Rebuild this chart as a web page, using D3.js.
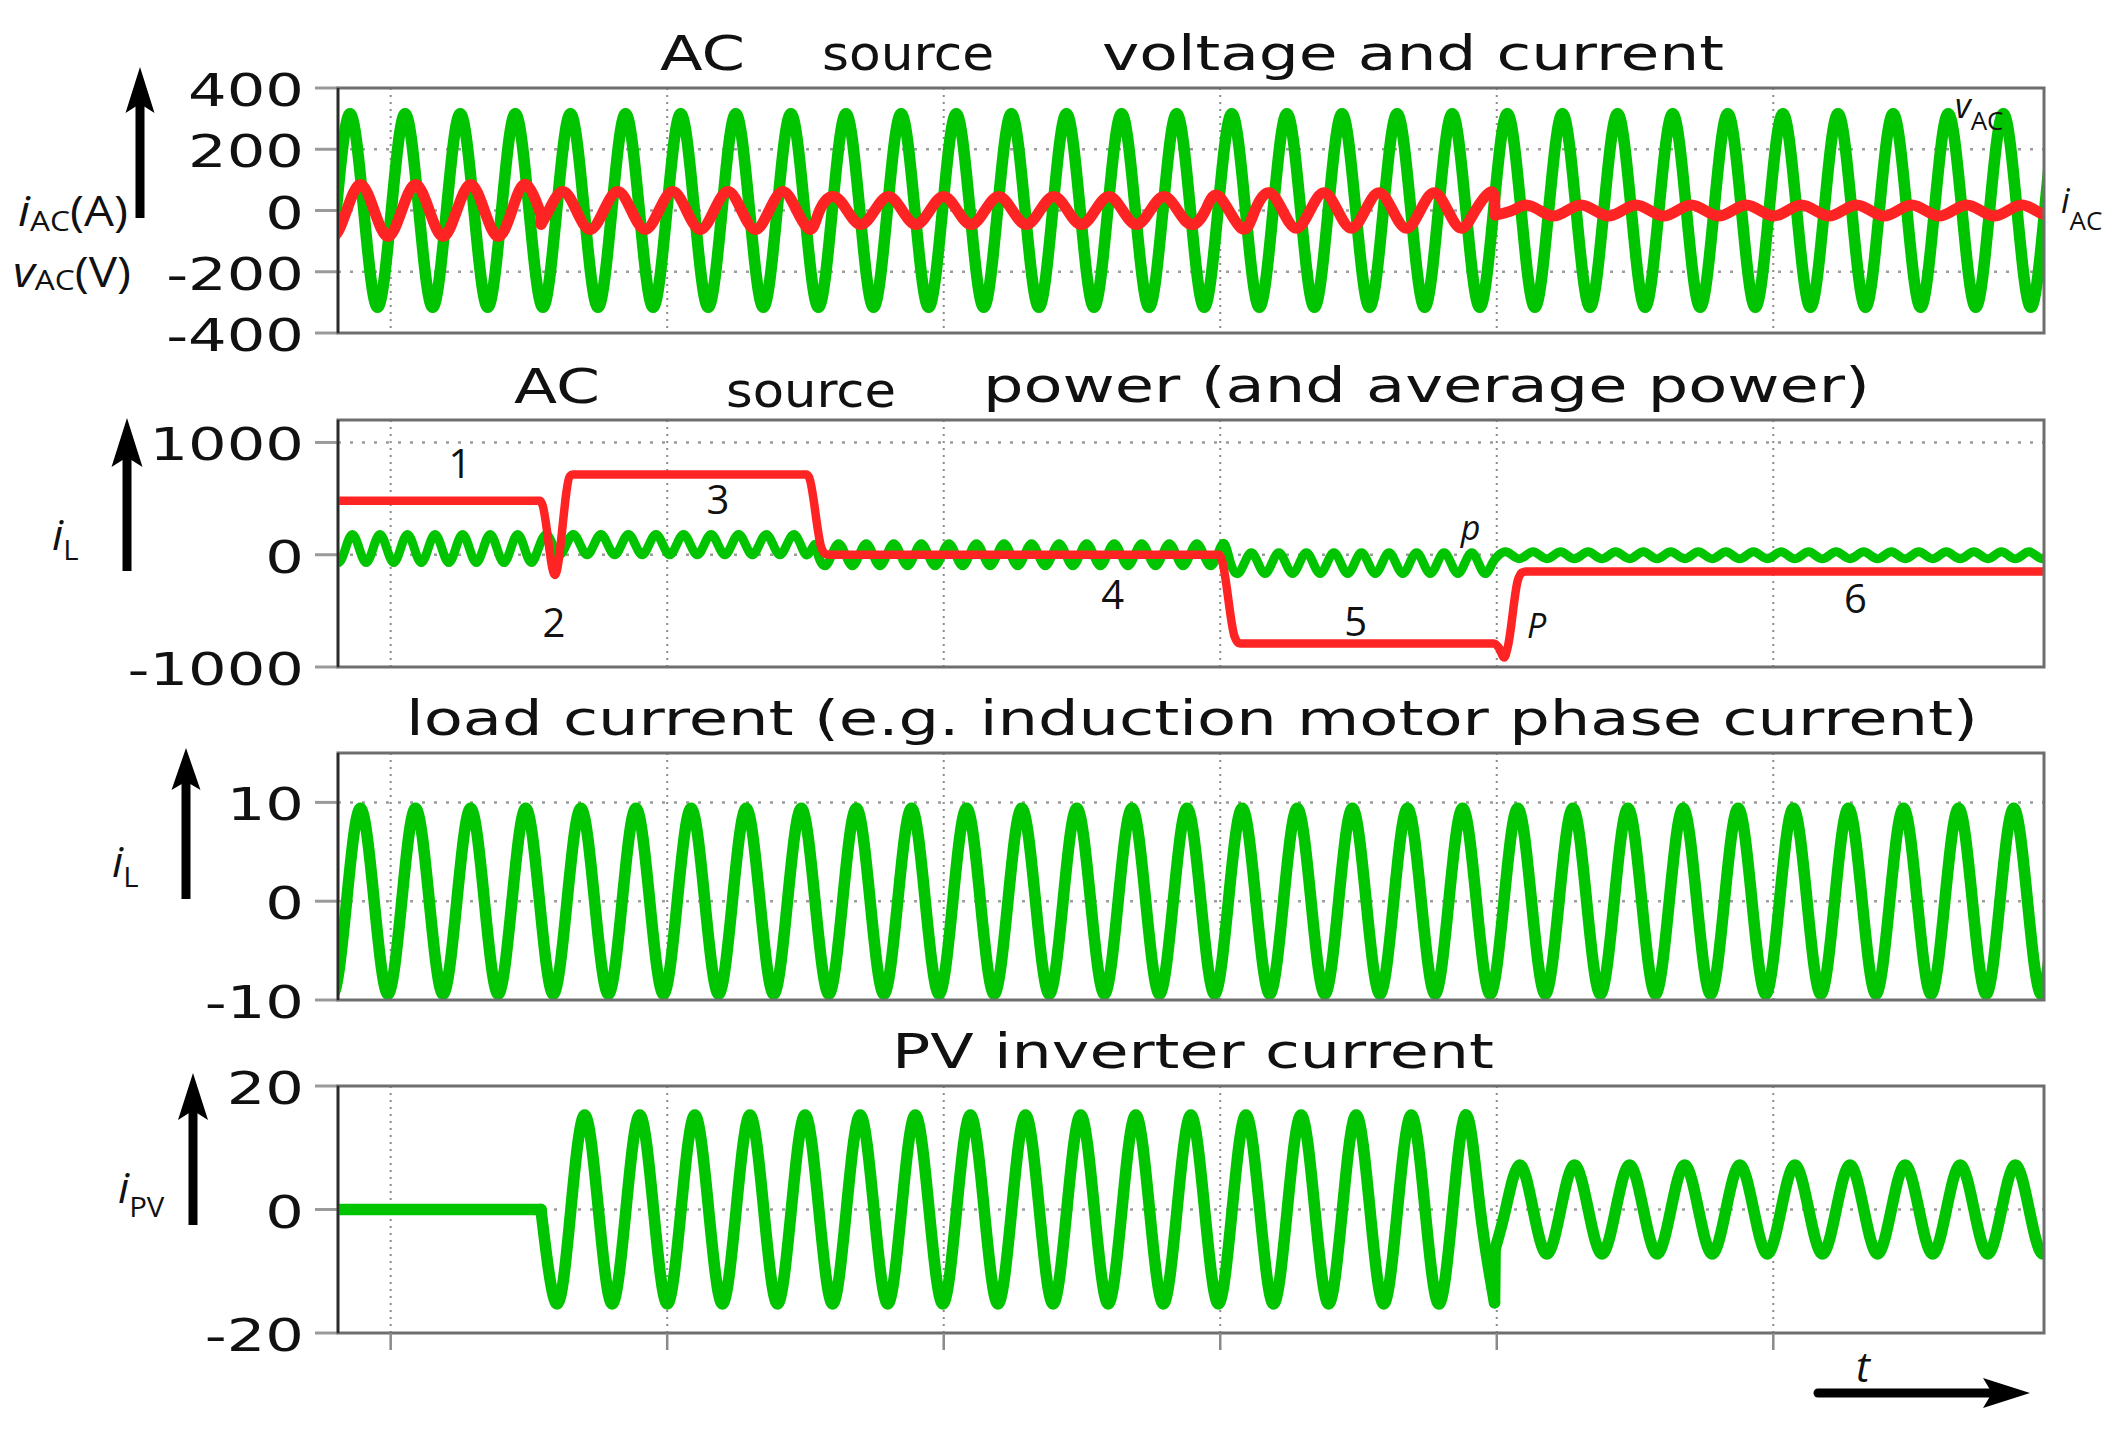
<!DOCTYPE html>
<html>
<head>
<meta charset="utf-8">
<script src="https://cdn.jsdelivr.net/npm/d3@7"></script>
<style>
  body { margin: 0; background: #fff; }
</style>
</head>
<body>
<div id="chart"></div>
<script>
// ---- data ----
// time axis (s), vertical grid every 0.1 s, one mains period ~0.0199 s
const tRange = [0.08095, 0.6979];
const gridTimes = [0.1, 0.2, 0.3, 0.4, 0.5, 0.6];
const period = 0.01993;

const yDomain1 = [-400, 400];
const yDomain2 = [-1000, 1200];
const yDomain3 = [-10, 15];
const yDomain4 = [-20, 20];
const yTicks1 = [400, 200, 0, -200, -400];
const yTicks2 = [1000, 0, -1000];
const yTicks3 = [10, 0, -10];
const yTicks4 = [20, 0, -20];

// waveform segments: [from, to, time of a peak, amplitude, mean]
// a piece is a run without jumps; start/end are the values read at the jumps
const vacPieces = [
  { segs: [[0.06, 0.72, 0.08529, 316, 0]] }
];
const iacPieces = [
  { segs: [[0.06, 0.15434, 0.08905, 85, 0]], end: [0.15434, -8] },
  { start: [0.1544, -45],
    segs: [[0.1544, 0.2540, 0.16215, 62, 0],
           [0.2540, 0.4030, 0.26009, 46, 0],
           [0.4030, 0.4992, 0.47733, 58, 0]],
    end: [0.4992, 48] },
  { start: [0.4994, -15], segs: [[0.4994, 0.72, 0.53048, 18, 0]] }
];
// instantaneous power p (double frequency)
const pacPieces = [
  { segs: [[0.06, 0.15434, 0.08615, 125, 55],
           [0.15434, 0.2540, 0.16605, 90, 90],
           [0.2540, 0.4030, 0.2620, 98, 0],
           [0.4030, 0.4992, 0.41121, 93, -75],
           [0.4992, 0.72, 0.5131, 31, -5]] }
];
// average power P
const pavgT = [0.06, 0.1540, 0.1548, 0.1594, 0.1648, 0.1658, 0.2503, 0.2513, 0.2558, 0.2573, 0.2590,
               0.3996, 0.4006, 0.4052, 0.4068, 0.4085, 0.4990, 0.5008, 0.5027, 0.5040, 0.5076, 0.5090, 0.5105, 0.72];
const pavgV = [480, 480, 450, -180, 700, 715, 715, 690, 60, 5, 0,
               0, -50, -730, -788, -790, -790, -830, -915, -820, -230, -160, -150, -150];
const ilPieces = [
  { segs: [[0.06, 0.72, 0.08905, 9.4, 0]] }
];
const ipvPieces = [
  { start: [0.06, 0], segs: [], end: [0.15434, 0] },
  { start: [0.15434, 0], segs: [[0.15434, 0.4992, 0.17014, 15.3, 0]], end: [0.4992, -15.1] },
  { start: [0.4994, -6.4], segs: [[0.4994, 0.72, 0.50817, 7.2, 0]] }
];
// numbered operating points in the power panel: [text, t, value, italic]
const powerNotes = [
  ["1", 0.12505, 683, false], ["2", 0.15904, -733, false], ["3", 0.21833, 362, false],
  ["4", 0.36113, -484, false], ["5", 0.44898, -724, false], ["6", 0.62975, -519, false],
  ["p", 0.49056, 131, true], ["P", 0.51442, -742, true]
];
const titles = [
  [["AC", 660, 745, 70], ["source", 822, 994, 70], ["voltage and current", 1102, 1724, 70]],
  [["AC", 514, 600, 403], ["source", 726, 896, 407], ["power (and average power)", 983, 1870, 402]],
  [["load current (e.g. induction motor phase current)", 406, 1978, 735]],
  [["PV inverter current", 892, 1494, 1068]]
];

// ---- layout ----
const W = 2120, H = 1430;
const xLeft = 338, xRight = 2044;
const GREEN = "#00c400", RED = "#ff2424";
const tickFont = "'DejaVu Sans', Verdana, sans-serif";
const labFont = "'Open Sans', 'Noto Sans', sans-serif";

const svg = d3.select("#chart").append("svg")
  .attr("width", W).attr("height", H)
  .style("background", "#fff");

const x = d3.scaleLinear().domain(tRange).range([xLeft, xRight]);

const panels = [
  { top: 88, bottom: 333, domain: yDomain1, ticks: yTicks1 },
  { top: 420, bottom: 667, domain: yDomain2, ticks: yTicks2 },
  { top: 753, bottom: 1000, domain: yDomain3, ticks: yTicks3 },
  { top: 1086, bottom: 1333, domain: yDomain4, ticks: yTicks4 }
];

// knots at quarter periods (peak, crossing, trough, crossing); d3 curve draws through them
function knotList(piece, T) {
  const q = T / 4;
  const pts = [];
  if (piece.start) pts.push(piece.start);
  piece.segs.forEach(function (s) {
    const from = s[0], to = s[1], pk = s[2], amp = s[3], mean = s[4];
    let k = Math.ceil((from - pk) / q - 1e-9);
    for (; pk + k * q <= to; k++) {
      const t = pk + k * q;
      const v = mean + amp * [1, 0, -1, 0][((k % 4) + 4) % 4];
      if (pts.length && t - pts[pts.length - 1][0] < 0.4 * q) continue;
      pts.push([t, v]);
    }
  });
  if (piece.end) {
    while (pts.length > 1 && piece.end[0] - pts[pts.length - 1][0] < 0.1 * q) pts.pop();
    pts.push(piece.end);
  }
  return pts;
}

function drawWave(g, pieces, T, y, color, width) {
  const smooth = d3.line().x(d => x(d[0])).y(d => y(d[1])).curve(d3.curveNatural);
  const straight = d3.line().x(d => x(d[0])).y(d => y(d[1]));
  let prev = null;
  pieces.forEach(function (p) {
    const pts = knotList(p, T);
    if (prev) {
      g.append("path").attr("d", straight([prev, pts[0]]))
        .attr("fill", "none").attr("stroke", color).attr("stroke-width", width)
        .attr("stroke-linecap", "round");
    }
    g.append("path").attr("d", smooth(pts))
      .attr("fill", "none").attr("stroke", color).attr("stroke-width", width)
      .attr("stroke-linejoin", "round").attr("stroke-linecap", "round");
    prev = pts[pts.length - 1];
  });
}

const yScales = panels.map(function (p, i) {
  const y = d3.scaleLinear().domain(p.domain).range([p.bottom, p.top]);
  const g = svg.append("g");

  svg.append("clipPath").attr("id", "clip" + i)
    .append("rect").attr("x", xLeft).attr("y", p.top)
    .attr("width", xRight - xLeft).attr("height", p.bottom - p.top);

  // dotted grid
  g.selectAll(".vg").data(gridTimes).enter().append("line")
    .attr("x1", d => x(d)).attr("x2", d => x(d))
    .attr("y1", p.top).attr("y2", p.bottom)
    .attr("stroke", "#8c8c8c").attr("stroke-width", 2).attr("stroke-dasharray", "2,5");
  g.selectAll(".hg").data(p.ticks.filter(v => y(v) > p.top + 2 && y(v) < p.bottom - 2)).enter()
    .append("line")
    .attr("x1", xLeft).attr("x2", xRight)
    .attr("y1", d => y(d)).attr("y2", d => y(d))
    .attr("stroke", "#9c9c9c").attr("stroke-width", 2.5).attr("stroke-dasharray", "3,9");

  // y ticks and labels
  g.selectAll(".yt").data(p.ticks).enter().append("line")
    .attr("x1", xLeft - 23).attr("x2", xLeft)
    .attr("y1", d => y(d)).attr("y2", d => y(d))
    .attr("stroke", "#9a9a9a").attr("stroke-width", 3);
  g.selectAll(".yl").data(p.ticks).enter().append("text")
    .attr("transform", d => "translate(304," + (y(d) + 18) + ") scale(1.38,1)")
    .attr("text-anchor", "end")
    .attr("font-family", tickFont).attr("font-size", 44).attr("fill", "#111")
    .text(d => String(d));

  p.g = g;
  p.plot = svg.append("g").attr("clip-path", "url(#clip" + i + ")");
  return y;
});

// ---- series ----
drawWave(panels[0].plot, vacPieces, period, yScales[0], GREEN, 11.5);
drawWave(panels[0].plot, iacPieces, period, yScales[0], RED, 11);

drawWave(panels[1].plot, pacPieces, period / 2, yScales[1], GREEN, 9);
panels[1].plot.append("path")
  .datum(d3.zip(pavgT, pavgV))
  .attr("d", d3.line().x(d => x(d[0])).y(d => yScales[1](d[1])).curve(d3.curveMonotoneX))
  .attr("fill", "none").attr("stroke", RED).attr("stroke-width", 8.5)
  .attr("stroke-linejoin", "round");

drawWave(panels[2].plot, ilPieces, period, yScales[2], GREEN, 11.5);
drawWave(panels[3].plot, ipvPieces, period, yScales[3], GREEN, 11.5);

// ---- frames ----
panels.forEach(function (p) {
  svg.append("rect").attr("x", xLeft).attr("y", p.top)
    .attr("width", xRight - xLeft).attr("height", p.bottom - p.top)
    .attr("fill", "none").attr("stroke", "#6e6e6e").attr("stroke-width", 3);
  svg.append("line").attr("x1", xLeft).attr("x2", xLeft).attr("y1", p.top).attr("y2", p.bottom)
    .attr("stroke", "#2a2a2a").attr("stroke-width", 2.5);
});
// x ticks under the last panel
svg.selectAll(".xt").data(gridTimes).enter().append("line")
  .attr("x1", d => x(d)).attr("x2", d => x(d))
  .attr("y1", panels[3].bottom).attr("y2", panels[3].bottom + 17)
  .attr("stroke", "#8a8a8a").attr("stroke-width", 2.5);

// ---- titles ----
titles.forEach(function (row) {
  row.forEach(function (t) {
    svg.append("text")
      .attr("x", t[1]).attr("y", t[3])
      .attr("textLength", t[2] - t[1]).attr("lengthAdjust", "spacingAndGlyphs")
      .attr("font-family", tickFont).attr("font-size", 48).attr("fill", "#111")
      .text(t[0]);
  });
});

// ---- annotations in power panel ----
svg.selectAll(".note").data(powerNotes).enter().append("text")
  .attr("x", d => x(d[1])).attr("y", d => yScales[1](d[2]))
  .attr("text-anchor", "middle")
  .attr("font-family", labFont).attr("font-size", d => d[3] ? 34 : 40)
  .attr("font-style", d => d[3] ? "italic" : "normal")
  .attr("fill", "#111")
  .text(d => d[0]);

// ---- quantity labels ----
function subLabel(xp, yp, main, sub, tail, size, subSize, subDy, sx) {
  const t = svg.append("text")
    .attr("transform", "translate(" + xp + "," + yp + ") scale(" + sx + ",1)")
    .attr("font-family", labFont).attr("fill", "#111");
  t.append("tspan").attr("font-style", "italic").attr("font-size", size).text(main);
  t.append("tspan").attr("font-size", subSize).attr("dy", subDy).text(sub);
  if (tail) t.append("tspan").attr("font-size", size).attr("dy", -subDy).text(tail);
}
subLabel(18, 226, "i", "AC", "(A)", 42, 28, 5, 1.13);
subLabel(13, 287, "v", "AC", "(V)", 42, 28, 3, 1.13);
subLabel(52, 550, "i", "L", null, 42, 28, 10, 1.05);
subLabel(112, 877, "i", "L", null, 42, 28, 10, 1.05);
subLabel(118, 1203, "i", "PV", null, 42, 28, 14, 1.05);
subLabel(1955, 118, "v", "AC", null, 34, 26, 12, 1.0);
subLabel(2061, 213, "i", "AC", null, 34, 26, 17, 1.0);

// ---- direction arrows ----
function arrowUp(xc, tip, tail, len, w) {
  svg.append("line").attr("x1", xc).attr("x2", xc).attr("y1", tail).attr("y2", tip + len * 0.7)
    .attr("stroke", "#000").attr("stroke-width", 9);
  svg.append("path")
    .attr("d", "M" + xc + "," + tip + " L" + (xc + w / 2) + "," + (tip + len) +
      " L" + xc + "," + (tip + len * 0.8) + " L" + (xc - w / 2) + "," + (tip + len) + " Z")
    .attr("fill", "#000");
}
arrowUp(140, 67, 218, 46, 29);
arrowUp(127, 418, 571, 49, 31);
arrowUp(186, 748, 899, 42, 29);
arrowUp(193, 1073, 1225, 47, 30);

svg.append("line").attr("x1", 1818).attr("x2", 2030 - 47 * 0.7).attr("y1", 1393).attr("y2", 1393)
  .attr("stroke", "#000").attr("stroke-width", 9).attr("stroke-linecap", "round");
svg.append("path")
  .attr("d", "M2030,1393 L1983,1378 L1992,1393 L1983,1408 Z")
  .attr("fill", "#000");
svg.append("text").attr("x", 1856).attr("y", 1382)
  .attr("font-family", labFont).attr("font-style", "italic").attr("font-size", 42)
  .attr("fill", "#111").text("t");
</script>
</body>
</html>
